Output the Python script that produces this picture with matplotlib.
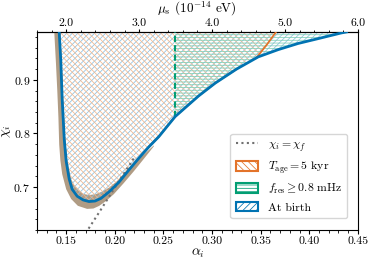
import matplotlib
matplotlib.use("Agg")
import matplotlib.pyplot as plt
from matplotlib.ticker import AutoMinorLocator, FormatStrFormatter
from matplotlib.patches import Patch
from matplotlib.lines import Line2D
import numpy as np

plt.rcParams['font.family'] = 'serif'
plt.rcParams['font.serif'] = ['cmr10', 'DejaVu Serif']
plt.rcParams['mathtext.fontset'] = 'cm'
plt.rcParams['axes.formatter.use_mathtext'] = True
plt.rcParams['hatch.linewidth'] = 0.55

# "at birth" boundary (alpha_i, chi_i)
birth_alpha = [0.1428, 0.1444, 0.1459, 0.1480, 0.1500, 0.1531, 0.1561, 0.1613,
               0.1674, 0.1735, 0.1797, 0.1858, 0.1940, 0.2042, 0.2145, 0.2247,
               0.2350, 0.2452, 0.2620, 0.2861, 0.3032, 0.3250, 0.3475, 0.3680,
               0.3885, 0.4090, 0.4328, 0.4397]
birth_chi = [0.990, 0.937, 0.863, 0.789, 0.748, 0.715, 0.696, 0.683,
             0.676, 0.673, 0.674, 0.679, 0.691, 0.709, 0.732, 0.754,
             0.775, 0.794, 0.8315, 0.870, 0.894, 0.920, 0.943, 0.9565,
             0.968, 0.977, 0.9876, 0.990]

# T_age = 5 kyr right-hand edge
age_alpha = [0.3455, 0.3560, 0.3660]
age_chi = [0.941, 0.965, 0.990]

# f_res >= 0.8 mHz cut
fres_alpha = 0.262

# chi_i = chi_f line (visible part)
eq_alpha = [0.1700, 0.1850, 0.2000, 0.2100, 0.2200]
eq_chi = [0.614, 0.656, 0.699, 0.727, 0.755]

# spread band around the boundary
band_out_alpha = [0.1377, 0.1395, 0.1408, 0.1420, 0.1428, 0.1440, 0.1459, 0.1500,
                  0.1551, 0.1620, 0.1715, 0.1780, 0.1838, 0.1910, 0.1991, 0.2090,
                  0.2196, 0.2300, 0.2401]
band_out_chi = [0.9907, 0.9300, 0.8815, 0.8300, 0.7796, 0.7500, 0.7241, 0.6960,
                0.6778, 0.6650, 0.6593, 0.6600, 0.6648, 0.6740, 0.6870, 0.7070,
                0.7296, 0.7530, 0.7759]
band_in_alpha = [0.2401, 0.2300, 0.2196, 0.2100, 0.2022, 0.1940, 0.1858, 0.1800,
                 0.1735, 0.1680, 0.1633, 0.1590, 0.1551, 0.1515, 0.1490, 0.1475,
                 0.1464, 0.1452, 0.1439]
band_in_chi = [0.7778, 0.7610, 0.7463, 0.7270, 0.7111, 0.6990, 0.6907, 0.6865,
               0.6852, 0.6870, 0.6926, 0.7010, 0.7148, 0.7450, 0.7889, 0.8350,
               0.8815, 0.9350, 0.9907]

blue = '#0173b2'
orange = '#e3732a'
green = '#029e73'
tan = '#b09c84'
grey = '#707070'

chi_top = 0.99
alpha_to_mu = 0.075  # mu_s [1e-14 eV] = alpha / 0.075

fig = plt.figure(figsize=(3.74, 2.64), dpi=100)
ax = fig.add_axes([0.099, 0.129, 0.858, 0.751])

# band
ax.fill(band_out_alpha + band_in_alpha, band_out_chi + band_in_chi,
        color=tan, lw=0, zorder=1)

# at birth region
ba = np.array(birth_alpha)
bc = np.array(birth_chi)
ax.fill(np.append(ba, ba[0]), np.append(bc, chi_top), facecolor='none',
        edgecolor='#8cc0e2', hatch='//////', lw=0, zorder=2)

# T_age region
keep = ba < age_alpha[0]
oa = np.concatenate([ba[keep], age_alpha, [ba[0]]])
oc = np.concatenate([bc[keep], age_chi, [chi_top]])
ax.fill(oa, oc, facecolor='none', edgecolor='#f2b68c', hatch='\\\\\\\\\\\\',
        lw=0, zorder=2)
ax.plot(age_alpha, age_chi, color=orange, lw=1.3, zorder=4)
ax.plot(ba[keep], bc[keep], color=orange, lw=1.3, zorder=3)

# f_res region
right = ba >= fres_alpha
ga = np.concatenate([ba[right], [fres_alpha]])
gc = np.concatenate([bc[right], [chi_top]])
ax.fill(ga, gc, facecolor='none', edgecolor='#7fcfb5', hatch='------',
        lw=0, zorder=2)
ax.plot([fres_alpha, fres_alpha], [bc[ba == fres_alpha][0], chi_top],
        color=green, lw=1.5, ls=(0, (3, 1.5)), zorder=4)

ax.plot(eq_alpha, eq_chi, color=grey, lw=1.5, ls=(0, (1, 1.6)), zorder=3)
ax.plot(ba, bc, color=blue, lw=2.0, zorder=5, solid_capstyle='butt')

ax.set_xlim(0.12, 0.45)
ax.set_ylim(0.62, chi_top)
ax.set_xticks([0.15, 0.20, 0.25, 0.30, 0.35, 0.40, 0.45])
ax.xaxis.set_major_formatter(FormatStrFormatter('%.2f'))
ax.set_yticks([0.7, 0.8, 0.9])
ax.xaxis.set_minor_locator(AutoMinorLocator())
ax.yaxis.set_minor_locator(AutoMinorLocator())
ax.tick_params(labelsize=8.5, pad=2, length=3)
ax.tick_params(which='minor', length=1.8)
ax.set_xlabel(r'$\alpha_i$', fontsize=10, labelpad=0)
ax.set_ylabel(r'$\chi_i$', fontsize=10, labelpad=0)

sec = ax.secondary_xaxis('top', functions=(lambda a: a / alpha_to_mu,
                                           lambda m: m * alpha_to_mu))
sec.set_xticks([2.0, 3.0, 4.0, 5.0, 6.0])
sec.xaxis.set_major_formatter(FormatStrFormatter('%.1f'))
sec.xaxis.set_minor_locator(AutoMinorLocator())
sec.tick_params(labelsize=8.5, pad=0.5, length=2.5)
sec.tick_params(which='minor', length=1.5)
fig.text(0.527, 1 - 8.5 / 264, r'$\mu_s$ $(10^{-14}$ eV$)$', fontsize=9.5,
         ha='center', va='center')

handles = [
    Line2D([], [], color=grey, lw=1.5, ls=(0, (1, 1.6))),
    Patch(facecolor='white', edgecolor=orange, hatch='\\\\\\\\\\', lw=1.5),
    Patch(facecolor='white', edgecolor=green, hatch='-----', lw=1.5),
    Patch(facecolor='white', edgecolor=blue, hatch='/////', lw=1.5),
]
labels = [r'$\chi_i = \chi_f$', r'$T_{\rm age} = 5$ kyr',
          r'$f_{\rm res} \geq 0.8$ mHz', 'At birth']
ax.legend(handles, labels, loc='lower right', fontsize=8.5,
          handlelength=1.9, handleheight=0.85, borderpad=0.45,
          labelspacing=0.5, handletextpad=0.8, bbox_to_anchor=(0.985, 0.03))

fig.savefig('out.png', dpi=100)
